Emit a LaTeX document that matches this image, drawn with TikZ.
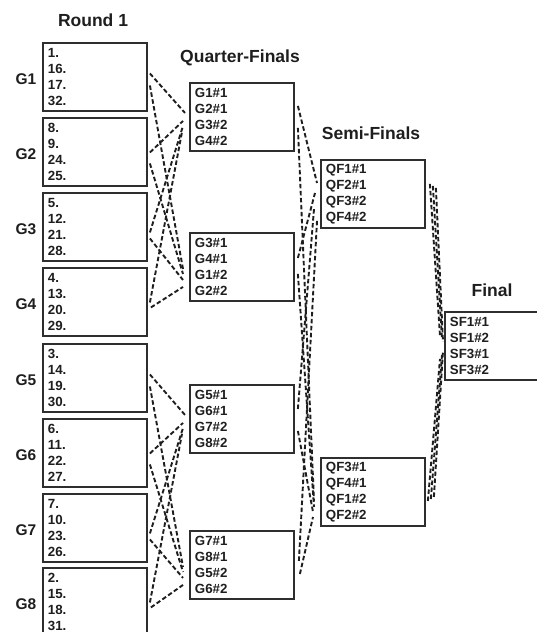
\documentclass[tikz,border=0pt]{standalone}
\usepackage{fontspec}
\setmainfont{Liberation Sans}
\usetikzlibrary{calc}
\definecolor{ink}{HTML}{1E1E1E}
\definecolor{edge}{HTML}{2E2E2E}
\begin{document}
\begin{tikzpicture}[x=1pt,y=-1pt,
  box/.style={draw=edge, line width=1.9pt, fill=white, text width=94pt, inner xsep=5pt, inner ysep=0pt,
    minimum height=68pt, align=left, font=\bfseries\fontsize{13.3}{16}\selectfont, text=ink, anchor=north west},
  title/.style={font=\bfseries\fontsize{17.5}{20}\selectfont, text=ink, inner sep=0pt},
  glabel/.style={font=\bfseries\fontsize{15.5}{18}\selectfont, text=ink, inner sep=0pt},
  conn/.style={draw=ink, line width=1.9pt, dash pattern=on 4.5pt off 2.5pt}]
\useasboundingbox (0,0) rectangle (537,632);
\clip (0,0) rectangle (537,632);

% titles
\node[title] (t1) at (93,20) {Round 1};
\node[title] (t2) at (240,58) {Quarter-Finals};
\node[title] (t3) at (371,133) {Semi-Finals};
\node[title] (t4) at (492,290) {Final};

% round 1 boxes
\node[box] (g1) at (42,42)  {1.\\16.\\17.\\32.};
\node[box] (g2) at (42,117) {8.\\9.\\24.\\25.};
\node[box] (g3) at (42,192) {5.\\12.\\21.\\28.};
\node[box] (g4) at (42,267) {4.\\13.\\20.\\29.};
\node[box] (g5) at (42,343) {3.\\14.\\19.\\30.};
\node[box] (g6) at (42,418) {6.\\11.\\22.\\27.};
\node[box] (g7) at (42,493) {7.\\10.\\23.\\26.};
\node[box] (g8) at (42,567) {2.\\15.\\18.\\31.};

\foreach \g/\n in {g1/G1,g2/G2,g3/G3,g4/G4,g5/G5,g6/G6,g7/G7,g8/G8}
  \node[glabel] (l\g) at ($(\g.west)+(-16,2)$) {\n};

% quarter-finals
\node[box] (q1) at (189,82)  {G1\#1\\G2\#1\\G3\#2\\G4\#2};
\node[box] (q2) at (189,232) {G3\#1\\G4\#1\\G1\#2\\G2\#2};
\node[box] (q3) at (189,384) {G5\#1\\G6\#1\\G7\#2\\G8\#2};
\node[box] (q4) at (189,530) {G7\#1\\G8\#1\\G5\#2\\G6\#2};

% semi-finals
\node[box] (s1) at (320,159) {QF1\#1\\QF2\#1\\QF3\#2\\QF4\#2};
\node[box] (s2) at (320,457) {QF3\#1\\QF4\#1\\QF1\#2\\QF2\#2};

% final
\node[box] (f) at (444,311) {SF1\#1\\SF1\#2\\SF3\#1\\SF3\#2};

% round 1 -> quarter-finals
\foreach \a/\b/\c/\d/\p/\q in {g1/g2/g3/g4/q1/q2, g5/g6/g7/g8/q3/q4} {
  \draw[conn] ($(\a.east)+(2,-3.5)$) -- ($(\p.west)+(-4,-4)$);
  \draw[conn] ($(\a.east)+(2,8.5)$)  -- ($(\q.west)+(-6,2)$);
  \draw[conn] ($(\b.east)+(2,0.5)$)  -- ($(\p.west)+(-6,4)$);
  \draw[conn] ($(\b.east)+(2,11.5)$) -- ($(\q.west)+(-6,7)$);
  \draw[conn] ($(\c.east)+(2,5.5)$)  -- ($(\p.west)+(-6,9)$);
  \draw[conn] ($(\c.east)+(2,11.5)$) -- ($(\q.west)+(-6,13)$);
  \draw[conn] ($(\d.east)+(2,0.5)$)  -- ($(\p.west)+(-7,15)$);
  \draw[conn] ($(\d.east)+(3,5.5)$)  -- ($(\q.west)+(-6,20)$);
}

% quarter-finals -> semi-finals
\draw[conn] ($(q1.east)+(3,-11)$) -- ($(s1.west)+(-3,-11)$);
\draw[conn] ($(q1.east)+(3,11)$)  -- ($(s2.west)+(-6,9)$);
\draw[conn] ($(q2.east)+(3,-9)$)  -- ($(s1.west)+(-5,-1)$);
\draw[conn] ($(q2.east)+(3,7)$)   -- ($(s2.west)+(-6,15)$);
\draw[conn] ($(q3.east)+(3,-10)$) -- ($(s1.west)+(-6,15)$);
\draw[conn] ($(q3.east)+(3,12)$)  -- ($(s2.west)+(-7,20)$);
\draw[conn] ($(q4.east)+(4,-4)$)  -- ($(s1.west)+(-3,27)$);
\draw[conn] ($(q4.east)+(5,9)$)   -- ($(s2.west)+(-7,25)$);

% semi-finals -> final
\draw[conn] ($(s1.east)+(4,-10)$) -- ($(f.west)+(-4,-10)$);
\draw[conn] ($(s1.east)+(7,-8)$)  -- ($(f.west)+(-2,-7)$);
\draw[conn] ($(s1.east)+(10,-6)$) -- ($(f.west)+(-1,-4)$);
\draw[conn] ($(s2.east)+(2,9)$)   -- ($(f.west)+(-4,13)$);
\draw[conn] ($(s2.east)+(5,7)$)   -- ($(f.west)+(-2,9)$);
\draw[conn] ($(s2.east)+(8,5)$)   -- ($(f.west)+(-1,5)$);
\end{tikzpicture}
\end{document}
